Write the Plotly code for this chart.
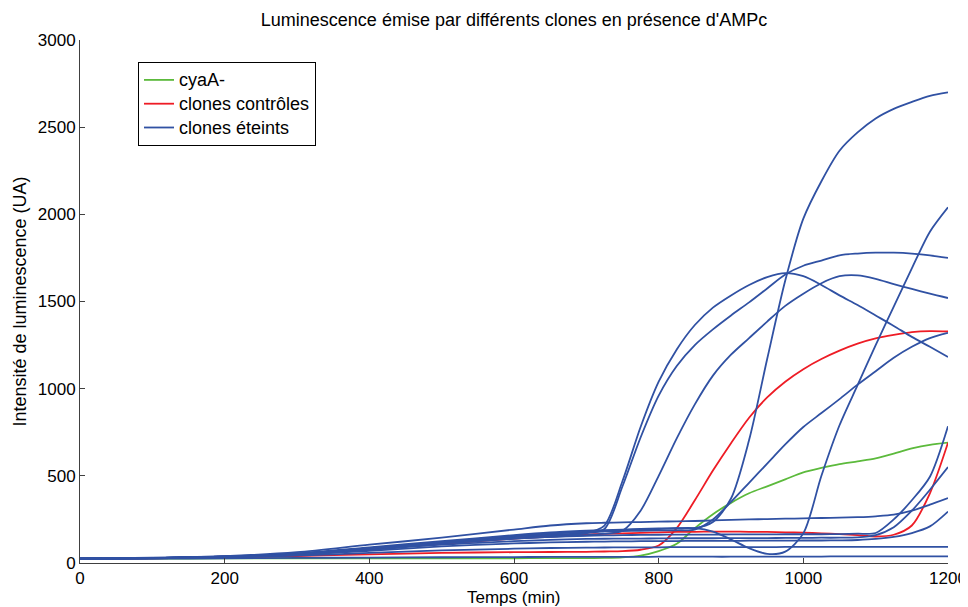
import plotly.graph_objects as go

# Time grid (min)
times = [0, 100, 200, 300, 400, 500, 600, 650, 700, 725, 750, 775, 800, 825, 850, 875, 900,
         925, 950, 975, 1000, 1025, 1050, 1075, 1100, 1125, 1150, 1175, 1200]

# cyaA- (green)
cyaA = [25, 25, 26, 26, 27, 27, 27, 28, 28, 29, 32, 42, 68, 110, 200, 280, 345, 400, 440, 480,
        520, 545, 567, 583, 600, 628, 657, 678, 690]

# clones contrôles (red)
ctrl_1 = [25, 27, 32, 40, 50, 58, 62, 63, 64, 66, 68, 76, 100, 200, 360, 530, 687, 833, 950, 1040,
          1112, 1170, 1218, 1258, 1288, 1308, 1324, 1330, 1328]
ctrl_2 = [25, 28, 36, 52, 80, 110, 140, 152, 163, 167, 170, 173, 176, 178, 179, 180, 180, 179, 178, 176,
          174, 170, 166, 160, 152, 162, 215, 400, 690]

# clones éteints (blue)
off_1 = [25, 29, 38, 55, 90, 125, 160, 175, 185, 189, 192, 195, 198, 200, 200, 235, 370, 705, 1170, 1620,
         1975, 2190, 2365, 2470, 2550, 2605, 2645, 2680, 2700]
off_2 = [25, 28, 37, 52, 85, 120, 155, 170, 180, 184, 188, 192, 195, 200, 200, 180, 135, 85, 52, 65,
         170, 500, 790, 1020, 1250, 1470, 1690, 1900, 2040]
off_3 = [25, 28, 37, 52, 85, 118, 150, 162, 172, 195, 440, 720, 960, 1130, 1250, 1340, 1420, 1495, 1575, 1655,
         1705, 1735, 1765, 1775, 1780, 1780, 1775, 1765, 1750]
off_4 = [25, 28, 36, 50, 80, 112, 140, 150, 160, 168, 185, 300, 500, 715, 910, 1075, 1195, 1290, 1385, 1475,
         1545, 1605, 1645, 1650, 1630, 1600, 1572, 1545, 1520]
off_5 = [25, 28, 37, 52, 85, 120, 155, 168, 178, 181, 183, 185, 187, 188, 192, 250, 350, 460, 570, 680,
         780, 860, 940, 1023, 1100, 1177, 1240, 1290, 1320]
off_6 = [25, 28, 37, 52, 85, 118, 148, 158, 172, 215, 470, 780, 1040, 1225, 1365, 1465, 1535, 1595, 1640, 1663,
         1645, 1595, 1535, 1480, 1420, 1360, 1297, 1240, 1182]
off_7 = [25, 28, 36, 50, 80, 112, 140, 150, 156, 158, 160, 161, 162, 163, 163, 163, 164, 164, 164, 165,
         165, 165, 166, 168, 172, 250, 360, 495, 785]
off_8 = [25, 27, 35, 48, 75, 105, 125, 133, 138, 139, 140, 140, 141, 142, 142, 142, 143, 143, 143, 144,
         144, 145, 145, 147, 160, 205, 300, 420, 550]
off_9 = [25, 30, 40, 62, 105, 145, 192, 215, 228, 231, 233, 235, 237, 239, 241, 244, 247, 250, 252, 254,
         256, 258, 260, 263, 268, 277, 300, 335, 373]
off_10 = [25, 27, 34, 46, 70, 95, 112, 118, 122, 123, 124, 125, 126, 126, 127, 127, 127, 128, 128, 128,
          129, 129, 130, 132, 138, 150, 172, 210, 295]
off_11 = [25, 27, 32, 42, 58, 72, 82, 86, 88, 89, 90, 90, 90, 91, 91, 91, 91, 91, 91, 92,
          92, 92, 92, 92, 92, 92, 92, 92, 92]
off_12 = [25, 25, 27, 29, 31, 33, 34, 35, 35, 35, 35, 35, 36, 36, 36, 36, 36, 37, 37, 37,
          37, 37, 38, 38, 38, 38, 38, 38, 38]

GREEN = "#5cba3c"
RED = "#ee1c25"
BLUE = "#3051a3"
FONT = "Liberation Sans, Arial, sans-serif"
FS = 18
TICK_FS = 17

# The page body has an 8px default margin: the figure is 8px smaller and margins shifted.
W, H = 960, 599
PLOT_H = H - 32 - 44

fig = go.Figure()

def add(y, label, group, color, show):
    fig.add_trace(go.Scatter(
        x=times, y=y, mode="lines",
        name="<span style='font-size:18px'>" + label + "</span>",
        legendgroup=group, showlegend=show,
        line=dict(color=color, width=1.8, shape="spline", smoothing=0.8),
        hoverinfo="skip"))

add(cyaA, "cyaA-", "g", GREEN, True)
add(ctrl_1, "clones contrôles", "r", RED, True)
add(ctrl_2, "clones contrôles", "r", RED, False)
blues = [off_1, off_2, off_3, off_4, off_5, off_6, off_7, off_8, off_9, off_10, off_11, off_12]
for i, b in enumerate(blues):
    add(b, "clones éteints", "b", BLUE, i == 0)

axis_common = dict(
    showline=True, linecolor="#404040", linewidth=1, mirror=False,
    ticks="inside", ticklen=5, tickcolor="#404040",
    showgrid=False, zeroline=False, automargin=False,
    tickfont=dict(family=FONT, size=TICK_FS, color="black"),
)

fig.update_layout(
    width=W, height=H,
    margin=dict(l=72, r=20, t=32, b=44),
    paper_bgcolor="white", plot_bgcolor="white",
    font=dict(family=FONT, size=FS, color="black"),
    title=dict(text="Luminescence émise par différents clones en présence d'AMPc",
               x=0.5, xref="paper", xanchor="center",
               y=1 - 12 / H, yref="container", yanchor="middle",
               font=dict(family=FONT, size=FS, color="black")),
    xaxis=dict(range=[0, 1200], tickvals=[0, 200, 400, 600, 800, 1000, 1200],
               **axis_common),
    yaxis=dict(range=[0, 3000], tickvals=[0, 500, 1000, 1500, 2000, 2500, 3000],
               title=dict(text="Intensité de luminescence (UA)", standoff=6,
                          font=dict(family=FONT, size=FS)),
               **axis_common),
    legend=dict(x=(138 - 80) / 868, y=1 - (62 - 40) / 523, xanchor="left", yanchor="top",
                bgcolor="white", bordercolor="black", borderwidth=1,
                font=dict(family=FONT, size=16, color="black"),
                itemwidth=30, tracegroupgap=0),
    showlegend=True,
)

# x-axis title placed just under the tick labels
fig.add_annotation(text="Temps (min)", xref="paper", yref="paper",
                   x=0.5, y=-(589.5 - 555) / PLOT_H, xanchor="center", yanchor="middle",
                   showarrow=False, borderpad=0,
                   font=dict(family=FONT, size=17, color="black"))

fig.write_html("out.html")
